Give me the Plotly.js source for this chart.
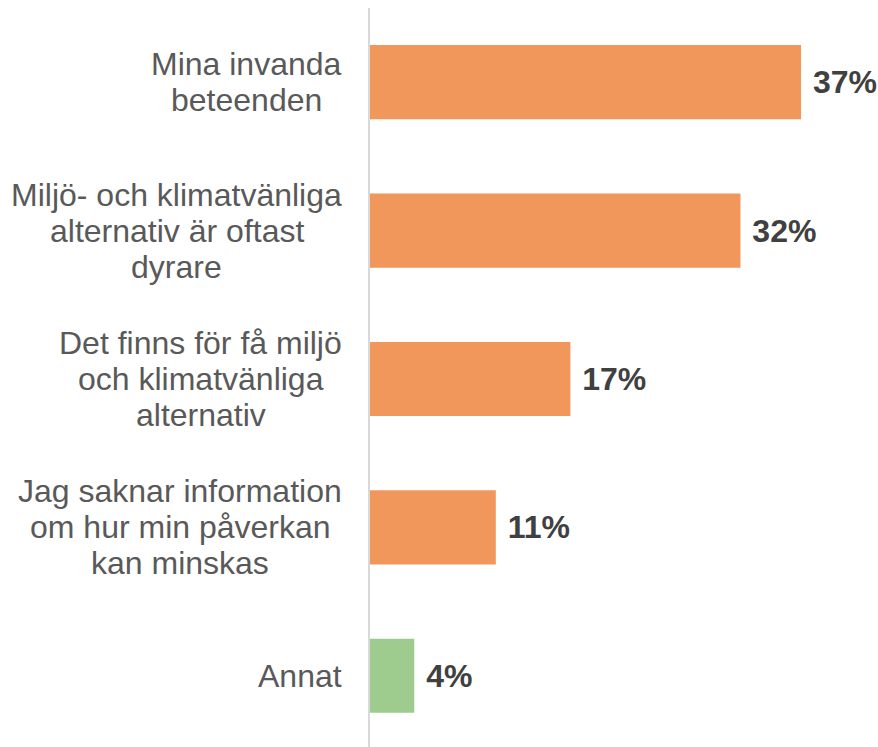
<!DOCTYPE html>
<html>
<head>
<meta charset="utf-8">
<script src="https://cdn.plot.ly/plotly-3.0.1.min.js"></script>
<style>html,body{margin:0;padding:0;background:#fff;}</style>
</head>
<body>
<div id="chart" style="width:878px;height:747px;"></div>
<script>
// ---- data ----
const categories = [
  "Mina invanda beteenden",
  "Miljö- och klimatvänliga alternativ är oftast dyrare",
  "Det finns för få miljö och klimatvänliga alternativ",
  "Jag saknar information om hur min påverkan kan minskas",
  "Annat"
];
const labelLines = [
  ["Mina invanda", "beteenden"],
  ["Miljö- och klimatvänliga", "alternativ är oftast", "dyrare"],
  ["Det finns för få miljö", "och klimatvänliga", "alternativ"],
  ["Jag saknar information", "om hur min påverkan", "kan minskas"],
  ["Annat"]
];
// bar lengths (percent)
const values = [37.0, 31.8, 17.2, 10.8, 3.8];
// printed value labels
const valueLabels = ["37%", "32%", "17%", "11%", "4%"];
const barColors = ["#F2975B", "#F2975B", "#F2975B", "#F2975B", "#9DCC8E"];

// ---- styling ----
const FONT = "Liberation Sans, Arial, sans-serif";
const LABEL_SIZE = 32;
const LINE_STEP = 36;
const LABEL_GAP = 28;

const cv = document.createElement("canvas").getContext("2d");
cv.font = LABEL_SIZE + "px 'Liberation Sans', Arial, sans-serif";

const annotations = [];
categories.forEach((cat, ci) => {
  const lines = labelLines[ci];
  const maxW = Math.max(...lines.map(l => cv.measureText(l).width));
  const n = lines.length;
  lines.forEach((ln, i) => {
    annotations.push({
      xref: "paper", x: 0, xanchor: "center",
      xshift: -(LABEL_GAP + maxW / 2),
      yref: "y", y: cat, yanchor: "middle",
      yshift: ((n - 1) / 2 - i) * LINE_STEP,
      text: ln, showarrow: false,
      font: {family: FONT, size: LABEL_SIZE, color: "#595959"}
    });
  });
});

const trace = {
  type: "bar",
  orientation: "h",
  y: categories,
  x: values,
  text: valueLabels.map(t => "\u00a0" + t),
  texttemplate: "%{text}",
  textposition: "outside",
  constraintext: "none",
  cliponaxis: false,
  textfont: {family: FONT, size: 32, color: "#404040", weight: "bold"},
  marker: {color: barColors},
  hoverinfo: "none"
};

const layout = {
  width: 878, height: 747,
  margin: {l: 370, r: 42, t: 8, b: 0},
  paper_bgcolor: "#ffffff",
  plot_bgcolor: "#ffffff",
  showlegend: false,
  bargap: 0.5,
  xaxis: {range: [0, 40], visible: false, fixedrange: true},
  yaxis: {
    type: "category",
    categoryorder: "array",
    categoryarray: categories,
    range: [4.48, -0.5],
    showticklabels: false,
    ticks: "",
    showgrid: false,
    zeroline: false,
    showline: true,
    linecolor: "#D9D9D9",
    linewidth: 2,
    fixedrange: true
  },
  annotations: annotations
};

Plotly.newPlot("chart", [trace], layout, {displayModeBar: false, staticPlot: true});
</script>
</body>
</html>
